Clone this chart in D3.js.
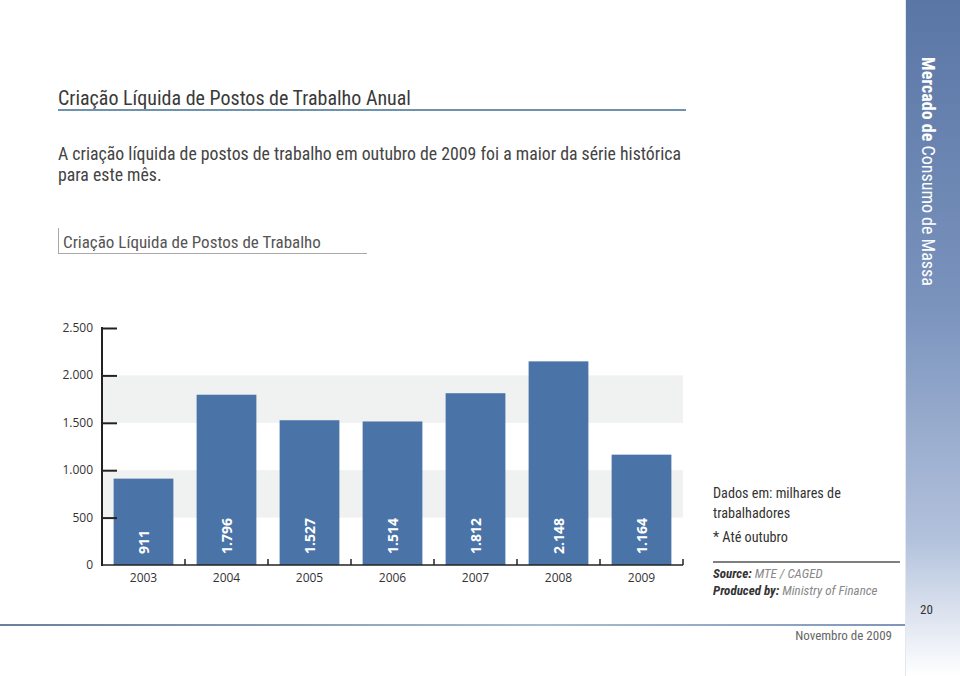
<!DOCTYPE html>
<html>
<head>
<meta charset="utf-8">
<script src="https://cdn.jsdelivr.net/npm/d3@7"></script>
<style>
  html, body { margin: 0; padding: 0; background: #fff; }
  svg { display: block; }
  .narrow { font-family: 'Liberation Sans Narrow', 'Roboto Condensed', 'Arial Narrow', Roboto, sans-serif; }
  .open { font-family: 'Open Sans', 'Noto Sans', sans-serif; }
</style>
</head>
<body>
<svg id="chart" width="960" height="676"></svg>
<script>
// ---- data ----
const years = ["2003", "2004", "2005", "2006", "2007", "2008", "2009"];
const values = [911, 1796, 1527, 1514, 1812, 2148, 1164];
const valueLabels = ["911", "1.796", "1.527", "1.514", "1.812", "2.148", "1.164"];
const yTicks = [0, 500, 1000, 1500, 2000, 2500];
const yTickLabels = ["0", "500", "1.000", "1.500", "2.000", "2.500"];
const bands = [[500, 1000], [1500, 2000]];

const title = "Criação Líquida de Postos de Trabalho Anual";
const paragraph = ["A criação líquida de postos de trabalho em outubro de 2009 foi a maior da série histórica", "para este mês."];
const subtitle = "Criação Líquida de Postos de Trabalho";
const notes = ["Dados em: milhares de", "trabalhadores", "* Até outubro"];

const svg = d3.select("#chart");
const defs = svg.append("defs");

// sidebar gradient
const sg = defs.append("linearGradient").attr("id", "side").attr("x1", 0).attr("y1", 0).attr("x2", 0).attr("y2", 1);
sg.append("stop").attr("offset", "0%").attr("stop-color", "#5a76a5");
sg.append("stop").attr("offset", "45%").attr("stop-color", "#7a93bd");
sg.append("stop").attr("offset", "80%").attr("stop-color", "#b3c2dc");
sg.append("stop").attr("offset", "100%").attr("stop-color", "#ffffff");

const lg = defs.append("linearGradient").attr("id", "foot").attr("x1", 0).attr("y1", 0).attr("x2", 1).attr("y2", 0);
lg.append("stop").attr("offset", "0%").attr("stop-color", "#6a7f9c");
lg.append("stop").attr("offset", "60%").attr("stop-color", "#a9bccf");
lg.append("stop").attr("offset", "100%").attr("stop-color", "#7f96bb");

// sidebar
svg.append("rect").attr("x", 905).attr("y", 0).attr("width", 55).attr("height", 676).attr("fill", "url(#side)");
svg.append("line").attr("x1", 905.5).attr("x2", 905.5).attr("y1", 0).attr("y2", 676).attr("stroke", "#e3e8f0").attr("stroke-width", 1);

const sideText = svg.append("text")
  .attr("class", "narrow")
  .attr("transform", "translate(922,57) rotate(90)")
  .attr("font-size", 18).attr("fill", "#fff");
sideText.append("tspan").attr("font-weight", "bold").text("Mercado de ");
sideText.append("tspan").text("Consumo de Massa");

// title
svg.append("text").attr("class", "narrow").attr("x", 58).attr("y", 105)
  .attr("font-size", 20).attr("fill", "#3a3a3a").text(title);
svg.append("line").attr("x1", 58).attr("x2", 686).attr("y1", 110).attr("y2", 110)
  .attr("stroke", "#6f93ad").attr("stroke-width", 2);

paragraph.forEach((t, i) => {
  svg.append("text").attr("class", "narrow").attr("x", 58).attr("y", 160 + i * 21)
    .attr("font-size", 17.8).attr("fill", "#444").text(t);
});

svg.append("text").attr("class", "narrow").attr("x", 63).attr("y", 248)
  .attr("font-size", 17).attr("fill", "#555").text(subtitle);
svg.append("line").attr("x1", 58.5).attr("x2", 58.5).attr("y1", 228).attr("y2", 254).attr("stroke", "#aaa");
svg.append("line").attr("x1", 58).attr("x2", 367).attr("y1", 253.5).attr("y2", 253.5).attr("stroke", "#aaa");

// chart
const x0 = 102, x1 = 683;
const y = d3.scaleLinear().domain([0, 2500]).range([565, 328]);
const x = d3.scaleBand().domain(years).range([x0, x1]).paddingInner(0.28).paddingOuter(0.14);

// gray bands
svg.append("g").selectAll("rect").data(bands).join("rect")
  .attr("x", x0).attr("width", x1 - x0)
  .attr("y", d => y(d[1])).attr("height", d => y(d[0]) - y(d[1]))
  .attr("fill", "#f0f1f1");

// bars
svg.append("g").selectAll("rect").data(values).join("rect")
  .attr("x", (d, i) => x(years[i])).attr("width", x.bandwidth())
  .attr("y", d => y(d)).attr("height", d => y(0) - y(d))
  .attr("fill", "#4a73a8");

// value labels
svg.append("g").selectAll("text").data(values).join("text")
  .attr("class", "open")
  .attr("transform", (d, i) => `translate(${x(years[i]) + x.bandwidth() / 2 + 5},${y(0) - 11}) rotate(-90)`)
  .attr("font-size", 14).attr("font-weight", "bold").attr("fill", "#fff")
  .text((d, i) => valueLabels[i]);

// y axis
const yAxis = d3.axisRight(y).tickValues(yTicks.slice(1)).tickSize(15).tickFormat("");
const yg = svg.append("g").attr("transform", `translate(${x0},0)`).call(yAxis);
yg.select(".domain").remove();
yg.selectAll("line").attr("stroke", "#222").attr("stroke-width", 2);
svg.append("line").attr("x1", x0).attr("x2", x0).attr("y1", y(2500) - 1).attr("y2", y(0) + 1)
  .attr("stroke", "#222").attr("stroke-width", 2);

svg.append("g").selectAll("text").data(yTicks).join("text")
  .attr("class", "open")
  .attr("x", 93).attr("y", d => y(d) + 4)
  .attr("text-anchor", "end").attr("font-size", 12).attr("fill", "#333")
  .text((d, i) => yTickLabels[i]);

// x axis
svg.append("line").attr("x1", x0).attr("x2", x1).attr("y1", y(0)).attr("y2", y(0))
  .attr("stroke", "#222").attr("stroke-width", 1.5);
const step = x.step();
const boundaries = years.slice(1).map(yr => x(yr) - x.paddingInner() * step / 2).concat([x1]);
svg.append("g").selectAll("line").data(boundaries).join("line")
  .attr("x1", d => d).attr("x2", d => d).attr("y1", y(0)).attr("y2", y(0) - 6)
  .attr("stroke", "#222").attr("stroke-width", 1.5);

svg.append("g").selectAll("text").data(years).join("text")
  .attr("class", "open")
  .attr("x", d => x(d) + x.bandwidth() / 2).attr("y", 582)
  .attr("text-anchor", "middle").attr("font-size", 12).attr("fill", "#333")
  .text(d => d);

// notes
notes.forEach((t, i) => {
  svg.append("text").attr("class", "narrow").attr("x", 713).attr("y", [498, 518, 542][i])
    .attr("font-size", 14.2).attr("fill", "#333").text(t);
});
svg.append("line").attr("x1", 713).attr("x2", 900).attr("y1", 562).attr("y2", 562).attr("stroke", "#555").attr("stroke-width", 1.5);

const src = svg.append("text").attr("class", "narrow").attr("x", 713).attr("y", 578).attr("font-size", 13).attr("font-style", "italic");
src.append("tspan").attr("font-weight", "bold").attr("fill", "#333").text("Source:");
src.append("tspan").attr("fill", "#888").text("  MTE / CAGED");
const prod = svg.append("text").attr("class", "narrow").attr("x", 713).attr("y", 595).attr("font-size", 13).attr("font-style", "italic");
prod.append("tspan").attr("font-weight", "bold").attr("fill", "#333").text("Produced by:");
prod.append("tspan").attr("fill", "#888").text(" Ministry of Finance");

// footer
svg.append("rect").attr("x", 0).attr("y", 624).attr("width", 905).attr("height", 2).attr("fill", "url(#foot)");
svg.append("text").attr("class", "narrow").attr("x", 892).attr("y", 640).attr("text-anchor", "end")
  .attr("font-size", 13).attr("fill", "#666").text("Novembro de 2009");
svg.append("text").attr("class", "narrow").attr("x", 920).attr("y", 614)
  .attr("font-size", 13).attr("fill", "#333").text("20");
</script>
</body>
</html>
